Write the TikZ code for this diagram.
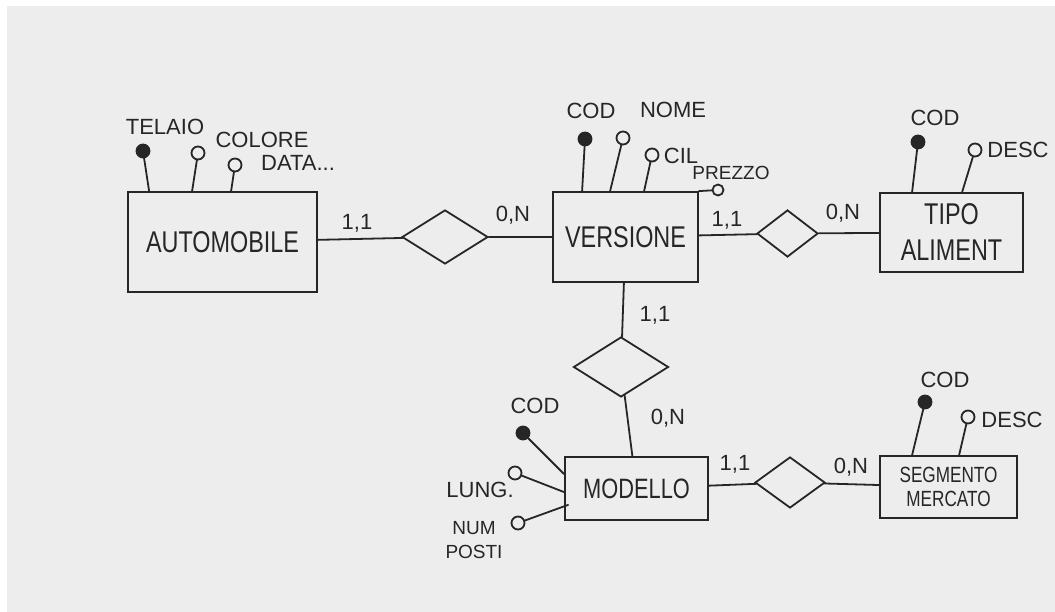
\documentclass[tikz,border=0pt]{standalone}
\usepackage{fontspec}
\setmainfont{Liberation Sans}
\newfontfamily\narrowfont[FakeStretch=0.78]{Liberation Sans}
\usetikzlibrary{shapes.geometric,calc}

\begin{document}
\begin{tikzpicture}[x=1pt, y=-1pt, line width=1.8pt, line cap=round,
		entity/.style={draw=ink, rectangle, inner sep=0pt, align=center, text=ink,
			font=\narrowfont\fontsize{30}{36}\selectfont},
		relation/.style={draw=ink, diamond, inner sep=0pt},
		keyattr/.style={draw=ink, fill=ink, circle, minimum size=13pt, inner sep=0pt},
		attr/.style={draw=ink, circle, minimum size=13pt, inner sep=0pt},
		attrlabel/.style={text=ink, align=center, inner sep=0pt, font=\fontsize{22}{24}\selectfont},
		card/.style={text=ink, inner sep=0pt, font=\fontsize{22}{24}\selectfont}]
		% Defines colors to match the scan
		\definecolor{ink}{RGB}{38, 38, 38}     % pen strokes
		\definecolor{paper}{RGB}{237, 237, 237} % grey paper
		
		% --- Sheet ---
		\useasboundingbox (0,0) rectangle (1055,612);
		\fill[paper] (7,6) rectangle (1055,612);
		
		% --- Entities ---
		\node[entity, minimum width=189pt, minimum height=100pt] (auto) at (222.5, 242) {AUTOMOBILE};
		\node[entity, minimum width=145pt, minimum height=90pt] (versione) at (625.5, 237) {VERSIONE};
		\node[entity, minimum width=143pt, minimum height=79pt] (tipo) at (951.5, 232.5) {TIPO\\ALIMENT};
		\node[entity, minimum width=143pt, minimum height=63pt, font=\narrowfont\fontsize{28}{30}\selectfont] (modello) at (636.5, 488.5) {MODELLO};
		\node[entity, minimum width=137pt, minimum height=62pt, font=\narrowfont\fontsize{22}{24}\selectfont] (segmento) at (948.5, 487) {SEGMENTO\\MERCATO};
		
		% --- Relationships ---
		\node[relation, minimum width=86pt, minimum height=54pt] (r1) at (445, 237) {};
		\node[relation, minimum width=61pt, minimum height=47pt] (r2) at (787.5, 233.5) {};
		\node[relation, minimum width=95pt, minimum height=60pt] (r3) at (621, 367) {};
		\node[relation, minimum width=70pt, minimum height=51pt] (r4) at (790, 482.5) {};
		
		% --- Connectors ---
		\draw[ink] (auto) -- (r1);
		\draw[ink] (r1) -- (versione);
		\draw[ink] (versione) -- (r2);
		\draw[ink] (r2) -- (tipo);
		\draw[ink] (versione) -- (r3);
		\draw[ink] (r3) -- (modello);
		\draw[ink] (modello) -- (r4);
		\draw[ink] (r4) -- (segmento);
		
		% --- Cardinalities ---
		\node[card] (c1) at (357, 223) {1,1};
		\node[card] (c2) at (513, 215) {0,N};
		\node[card] (c3) at (727, 220) {1,1};
		\node[card] (c4) at (843, 213) {0,N};
		\node[card] (c5) at (655, 315) {1,1};
		\node[card] (c6) at (668, 418) {0,N};
		\node[card] (c7) at (735, 464) {1,1};
		\node[card] (c8) at (851, 467) {0,N};
		
		% --- Attributes of AUTOMOBILE ---
		\node[keyattr] (a_telaio) at (143, 151) {};
		\node[attr] (a_colore) at (198, 153) {};
		\node[attr] (a_data) at (235, 165) {};
		\draw[ink] (a_telaio) -- ($(auto.north west)+(22,0)$);
		\draw[ink] (a_colore) -- ($(auto.north west)+(65,0)$);
		\draw[ink] (a_data) -- ($(auto.north west)+(104,0)$);
		\node[attrlabel] at (165, 127) {TELAIO};
		\node[attrlabel] at (262, 140) {COLORE};
		\node[attrlabel] at (298, 163) {DATA...};
		
		% --- Attributes of VERSIONE ---
		\node[keyattr] (v_cod) at (585, 139) {};
		\node[attr] (v_nome) at (623, 138) {};
		\node[attr] (v_cil) at (652, 155) {};
		\node[attr, minimum size=11pt] (v_prezzo) at (718, 190) {};
		\draw[ink] (v_cod) -- ($(versione.north west)+(30,0)$);
		\draw[ink] (v_nome) -- ($(versione.north west)+(58,0)$);
		\draw[ink] (v_cil) -- ($(versione.north west)+(92,0)$);
		\draw[ink] (v_prezzo) -- (versione.north east);
		\node[attrlabel] at (591, 111) {COD};
		\node[attrlabel] at (673, 110) {NOME};
		\node[attrlabel] at (681, 156) {CIL};
		\node[attrlabel, font=\fontsize{19}{20}\selectfont] at (731, 173) {PREZZO};
		
		% --- Attributes of TIPO ALIMENT ---
		\node[keyattr] (t_cod) at (918, 142) {};
		\node[attr] (t_desc) at (975, 150) {};
		\draw[ink] (t_cod) -- ($(tipo.north west)+(33,0)$);
		\draw[ink] (t_desc) -- ($(tipo.north west)+(83,0)$);
		\node[attrlabel] at (935, 118) {COD};
		\node[attrlabel] at (1018, 150) {DESC};
		
		% --- Attributes of MODELLO ---
		\node[keyattr] (m_cod) at (523, 433) {};
		\node[attr] (m_lung) at (515, 473) {};
		\node[attr] (m_num) at (518, 523) {};
		\draw[ink] (m_cod) -- ($(modello.north west)+(0,18)$);
		\draw[ink] (m_lung) -- ($(modello.north west)+(0,36)$);
		\draw[ink] (m_num) -- ($(modello.south west)+(4,-16)$);
		\node[attrlabel] at (535, 406) {COD};
		\node[attrlabel] at (480, 490) {LUNG.};
		\node[attrlabel, font=\fontsize{19}{24}\selectfont] at (474, 540) {NUM\\POSTI};
		
		% --- Attributes of SEGMENTO MERCATO ---
		\node[keyattr] (s_cod) at (925, 402) {};
		\node[attr] (s_desc) at (968, 417) {};
		\draw[ink] (s_cod) -- ($(segmento.north west)+(33,0)$);
		\draw[ink] (s_desc) -- ($(segmento.north west)+(80,0)$);
		\node[attrlabel] at (945, 380) {COD};
		\node[attrlabel] at (1012, 420) {DESC};
		
	\end{tikzpicture}
\end{document}
